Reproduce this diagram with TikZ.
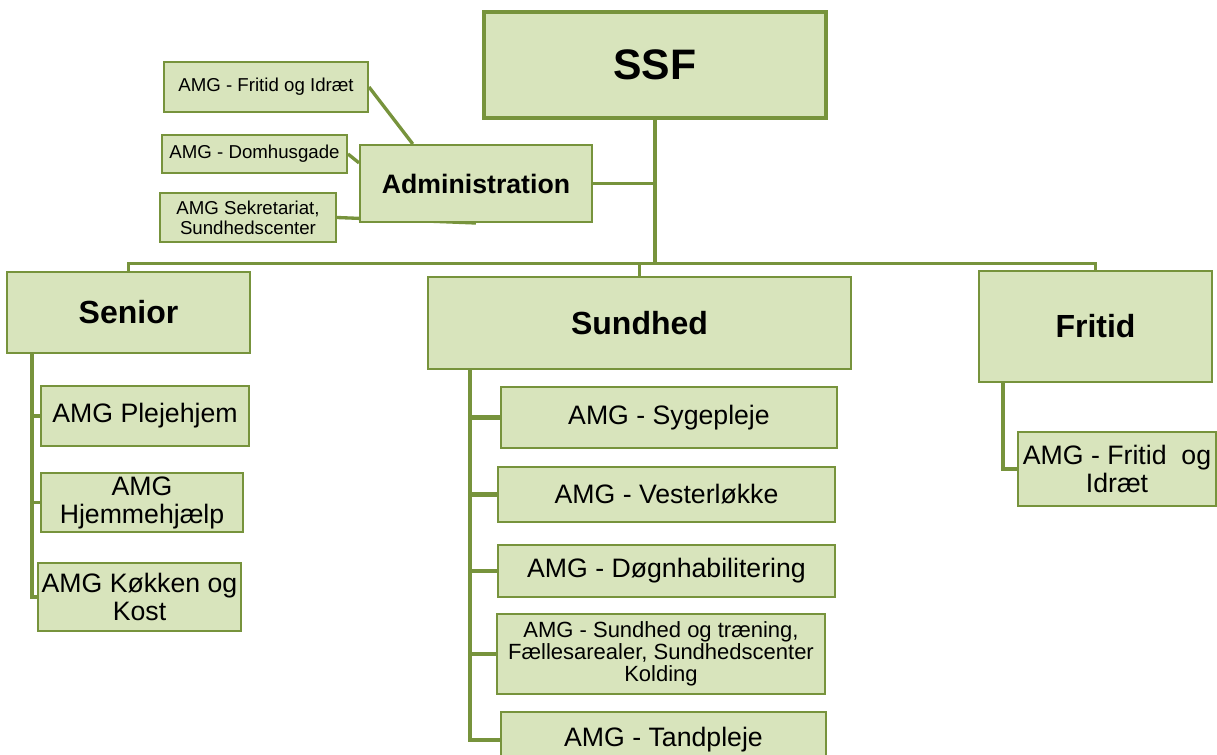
\documentclass[tikz,border=0pt]{standalone}
\usepackage{fontspec}
\setmainfont{Liberation Sans}
\usetikzlibrary{backgrounds}
\definecolor{boxfill}{RGB}{216,228,188}
\definecolor{boxline}{RGB}{119,147,60}

\begin{document}
\begin{tikzpicture}[x=0.75pt,y=-0.75pt,
  box/.style={draw=boxline,fill=boxfill,line width=1.5pt,align=center,inner sep=1pt},
  dim/.style 2 args={minimum width=#1*0.75pt,minimum height=#2*0.75pt},
  head/.style={box,line width=2.2pt,font=\fontsize{24}{26}\selectfont\bfseries},
  unit/.style={box,font=\fontsize{20}{21}\selectfont},
  small/.style={box,font=\fontsize{14}{15}\selectfont},
  link/.style={draw=boxline,line width=2.5pt}]
  \useasboundingbox (0,0) rectangle (1217,754);
  \clip (0,0) rectangle (1217,754);
  % Top
  \node[head,dim={342}{106},line width=2.5pt,font=\fontsize{32}{34}\selectfont\bfseries] (ssf) at (655,65) {SSF};
  \node[box,dim={232}{77},font=\fontsize{20}{22}\selectfont\bfseries] (admin) at (476,183.5) {Administration};
  \node[small,dim={204}{50}] (afritid) at (266,87) {AMG - Fritid og Idræt};
  \node[small,dim={185}{38}] (adom) at (254.5,154) {AMG - Domhusgade};
  \node[small,dim={176}{49}] (asek) at (248,217.5) {AMG Sekretariat,\\Sundhedscenter};
  % Departments
  \node[head,dim={243}{81}] (senior) at (128.5,312.5) {Senior};
  \node[head,dim={423}{92}] (sundhed) at (639.5,323) {Sundhed};
  \node[head,dim={233}{111}] (fritid) at (1095.5,326.5) {Fritid};
  % Senior units
  \node[unit,dim={208}{60}] (pleje) at (145,416) {AMG Plejehjem};
  \node[unit,dim={202}{59}] (hjem) at (142,502.5) {AMG\\Hjemmehjælp};
  \node[unit,dim={203}{68}] (kost) at (139.5,597) {AMG Køkken og\\Kost};
  % Sundhed units
  \node[unit,dim={336}{61}] (syge) at (669,417.5) {AMG - Sygepleje};
  \node[unit,dim={337}{55}] (vester) at (666.5,494.5) {AMG - Vesterløkke};
  \node[unit,dim={337}{52}] (dogn) at (666.5,571) {AMG - Døgnhabilitering};
  \node[unit,dim={328}{80},font=\fontsize{16.5}{16.5}\selectfont] (traening) at (661,654) {AMG - Sundhed og træning,\\Fællesarealer, Sundhedscenter\\Kolding};
  \node[unit,dim={325}{56}] (tand) at (663.5,740) {AMG - Tandpleje};
  % Fritid units
  \node[unit,dim={198}{74}] (fidraet) at (1117,469) {AMG - Fritid~ og\\Idræt};
  % Lines
  \coordinate (bus) at (655,265);
  \coordinate (sspine) at (32,0);
  \coordinate (dspine) at (470,0);
  \coordinate (fspine) at (1003,0);
  \begin{pgfonlayer}{background}
    \draw[link,line width=3pt] (ssf.south) -- (bus);
    \draw[link] (admin.east) -- (admin.east -| bus);
    \draw[link] (afritid.east) -- (admin.148);
    \draw[link] (adom.east) -- (admin.170);
    \draw[link] (asek.east) -- (admin.south);
    \draw[link,line width=2pt] (senior.north) -- ++(0,-7) -| (fritid.north);
    \draw[link] (sundhed.north) -- (sundhed.north |- bus);
    \draw[link] (senior.south -| sspine) |- (pleje.west) (senior.south -| sspine) |- (hjem.west)
      (senior.south -| sspine) |- (kost.west);
    \draw[link,line width=3.5pt] (sundhed.south -| dspine) |- (syge.west) (sundhed.south -| dspine) |- (vester.west)
      (sundhed.south -| dspine) |- (dogn.west) (sundhed.south -| dspine) |- (traening.west)
      (sundhed.south -| dspine) |- (tand.west);
    \draw[link] (fritid.south -| fspine) |- (fidraet.west);
  \end{pgfonlayer}
\end{tikzpicture}
\end{document}
